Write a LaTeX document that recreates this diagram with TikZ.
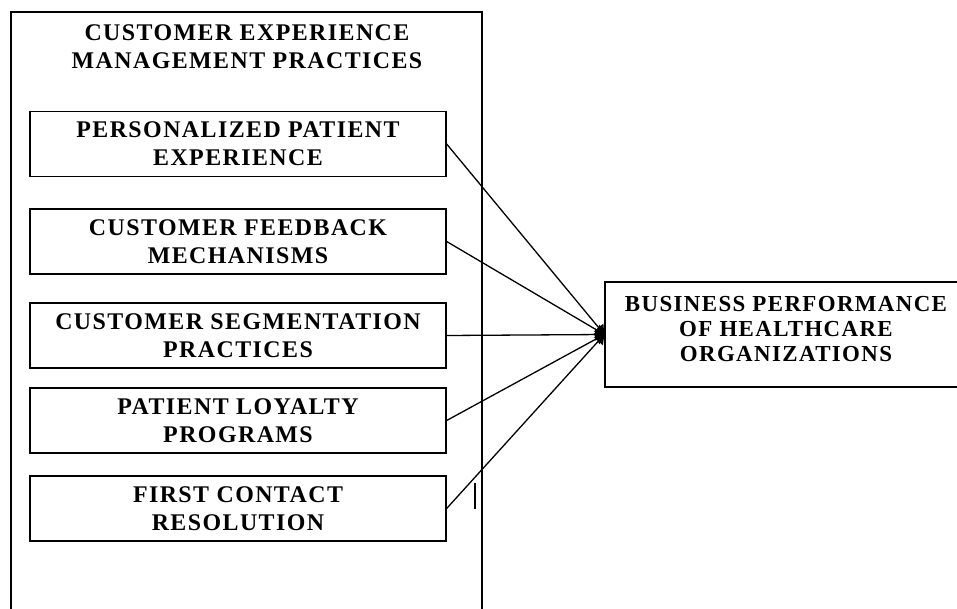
\documentclass[tikz,border=0pt]{standalone}
\usepackage{fontspec}
\setmainfont{Liberation Serif}[LetterSpace=6]
\usetikzlibrary{arrows.meta}
\begin{document}
\begin{tikzpicture}[x=1bp,y=-1bp,
  frame/.style={draw, line width=1.3bp},
  label/.style={align=center, inner sep=0pt, font=\bfseries\fontsize{24}{28.5}\selectfont},
  practice/.style={frame, label, minimum width=416bp, minimum height=65bp},
  link/.style={line width=1.3bp, -{Triangle[length=9bp,width=12bp]}}]
\useasboundingbox (0,0) rectangle (957,609);
\clip (0,0) rectangle (957,609);

% enclosing frame of the practices (runs off the bottom edge)
\draw[frame] (11,630) -- (11,12) -- (482,12) -- (482,630);
\node[label] (title) at (247,47) {CUSTOMER EXPERIENCE\\MANAGEMENT PRACTICES};

% individual practices
\node[practice] (p1) at (238,144)   {PERSONALIZED PATIENT\\EXPERIENCE};
\node[practice] (p2) at (238,241.5) {CUSTOMER FEEDBACK\\MECHANISMS};
\node[practice] (p3) at (238,335.5) {CUSTOMER SEGMENTATION\\PRACTICES};
\node[practice] (p4) at (238,420.5) {PATIENT LOYALTY\\PROGRAMS};
\node[practice] (p5) at (238,508.5) {FIRST CONTACT\\RESOLUTION};

% outcome box (runs off the right edge)
\node[frame, minimum width=363bp, minimum height=105bp] (bp) at (786.5,334.5) {};
\node[label, font=\bfseries\fontsize{23}{25}\selectfont] (bptext) at (786,329)
  {BUSINESS PERFORMANCE\\OF HEALTHCARE\\ORGANIZATIONS};

% links from each practice to the outcome
\foreach \p in {p1,p2,p3,p4,p5}
  \draw[link] (\p.east) -- (bp.west);

% short vertical stroke beside the last practice
\coordinate (m1) at (475,483);
\coordinate (m2) at (475,509);
\draw[line width=2bp] (m1) -- (m2);
\end{tikzpicture}
\end{document}
